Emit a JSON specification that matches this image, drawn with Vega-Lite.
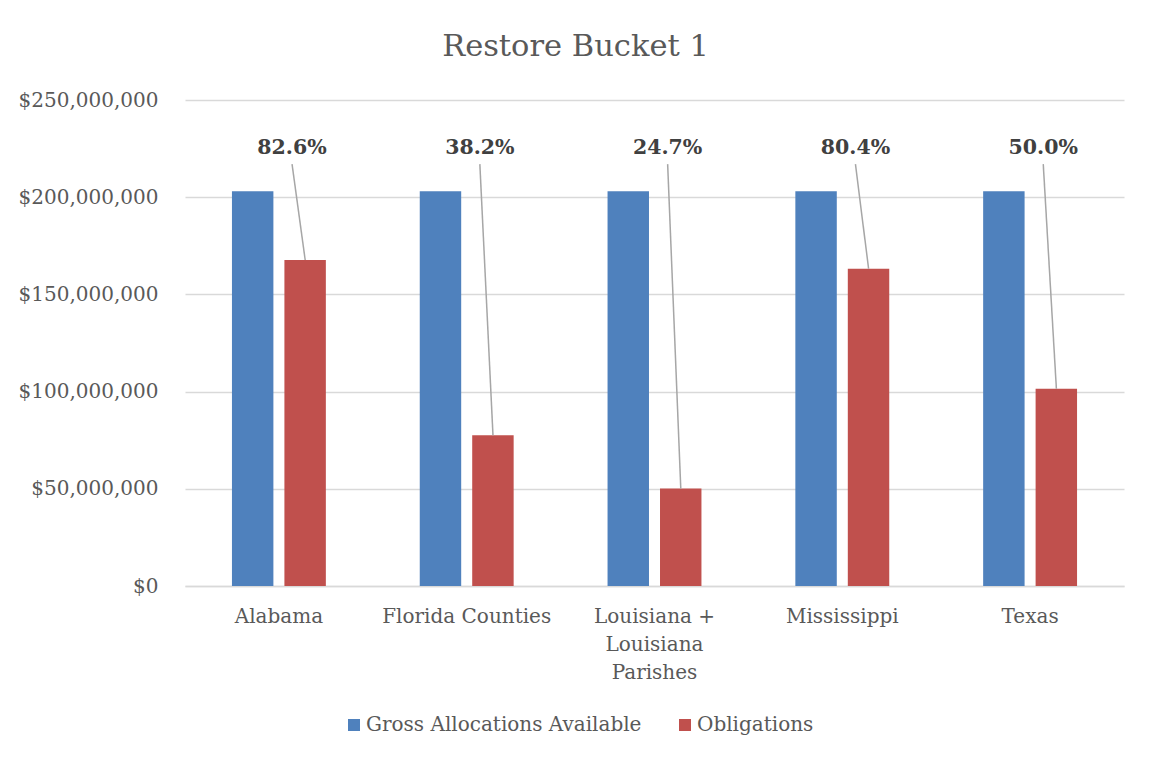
{
  "$schema": "https://vega.github.io/schema/vega-lite/v6.json",
  "width": 939,
  "height": 486,
  "autosize": {"type": "none"},
  "padding": {"left": 185, "top": 100, "right": 28, "bottom": 175},
  "background": "white",
  "title": {
    "text": "Restore Bucket 1",
    "font": "DejaVu Serif",
    "fontSize": 30.5,
    "fontWeight": "normal",
    "color": "#595959",
    "anchor": "middle",
    "dx": -79,
    "offset": 28
  },
  "data": {
    "values": [
      {"state": "Alabama", "gross": 203000000, "obligations": 167700000, "pct": 0.826},
      {"state": "Florida Counties", "gross": 203000000, "obligations": 77500000, "pct": 0.382},
      {"state": "Louisiana + Louisiana Parishes", "gross": 203000000, "obligations": 50100000, "pct": 0.247},
      {"state": "Mississippi", "gross": 203000000, "obligations": 163200000, "pct": 0.804},
      {"state": "Texas", "gross": 203000000, "obligations": 101500000, "pct": 0.5}
    ]
  },
  "config": {"view": {"stroke": null}, "font": "DejaVu Serif"},
  "layer": [
    {
      "transform": [{"fold": ["gross", "obligations"], "as": ["series", "amount"]}],
      "mark": {"type": "bar"},
      "encoding": {
        "x": {
          "field": "state",
          "type": "nominal",
          "sort": null,
          "scale": {"paddingInner": 0.5, "paddingOuter": 0.25},
          "axis": {
            "title": null,
            "labelAngle": 0,
            "labelFont": "DejaVu Serif",
            "labelFontSize": 20,
            "labelColor": "#595959",
            "labelPadding": 20,
            "labelBaseline": "top",
            "labelLineHeight": 28,
            "labelLimit": 300,
            "labelExpr": "datum.label == 'Louisiana + Louisiana Parishes' ? ['Louisiana +', 'Louisiana', 'Parishes'] : datum.label",
            "ticks": false,
            "domainColor": "#D9D9D9",
            "domainWidth": 1.5,
            "grid": false
          }
        },
        "xOffset": {
          "field": "series",
          "type": "nominal",
          "sort": ["gross", "obligations"],
          "scale": {"paddingInner": 0.21, "paddingOuter": 0}
        },
        "y": {
          "field": "amount",
          "type": "quantitative",
          "scale": {"domain": [0, 250000000], "nice": false},
          "axis": {
            "title": null,
            "values": [0, 50000000, 100000000, 150000000, 200000000, 250000000],
            "format": "$,.0f",
            "labelFont": "DejaVu Serif",
            "labelFontSize": 20,
            "labelColor": "#595959",
            "labelPadding": 27,
            "ticks": false,
            "domain": false,
            "gridColor": "#D9D9D9",
            "gridWidth": 1.5
          }
        },
        "color": {
          "field": "series",
          "type": "nominal",
          "scale": {"domain": ["gross", "obligations"], "range": ["#4F81BD", "#C0504D"]},
          "legend": {
            "title": null,
            "orient": "none",
            "legendX": 159,
            "legendY": 615,
            "direction": "horizontal",
            "symbolType": "square",
            "symbolSize": 144,
            "symbolStrokeWidth": 0,
            "labelFont": "DejaVu Serif",
            "labelFontSize": 20,
            "labelColor": "#595959",
            "labelOffset": 2,
            "labelLimit": 400,
            "columnPadding": 33,
            "labelExpr": "datum.label == 'gross' ? 'Gross Allocations Available' : 'Obligations'"
          }
        }
      }
    },
    {
      "mark": {"type": "rule", "color": "#A6A6A6", "strokeWidth": 1.5},
      "encoding": {
        "x": {"field": "state", "type": "nominal", "sort": null, "bandPosition": 0.78},
        "x2": {"field": "state", "bandPosition": 0.64},
        "y": {"field": "obligations", "type": "quantitative"},
        "y2": {"datum": 217000000}
      }
    },
    {
      "mark": {"type": "text", "font": "DejaVu Serif", "fontSize": 20.5, "fontWeight": "bold", "color": "#404040"},
      "encoding": {
        "x": {"field": "state", "type": "nominal", "sort": null, "bandPosition": 0.64},
        "y": {"datum": 225300000, "type": "quantitative"},
        "text": {"field": "pct", "type": "quantitative", "format": ".1%"}
      }
    }
  ]
}
